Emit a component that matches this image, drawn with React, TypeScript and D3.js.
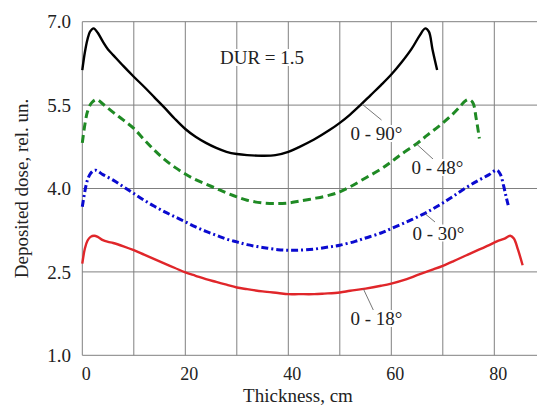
import React, { useEffect, useRef } from "react";
import * as d3 from "d3";

const WIDTH = 537;
const HEIGHT = 406;

// Thickness ticks (cm) and dose ticks (rel. un.)
const xGrid = [0, 10, 20, 30, 40, 50, 60, 70, 80, 90];
const xTickLabels = [0, 20, 40, 60, 80];
const yTicks = [1.0, 2.5, 4.0, 5.5, 7.0];

// Depth-dose profiles: [thickness, dose]
const dose90: [number, number][] = [
  [0, 6.13], [0.5, 6.45], [1, 6.68], [1.5, 6.82], [2.2, 6.88], [3, 6.8], [4, 6.64],
  [5, 6.5], [6, 6.4], [8, 6.2], [10, 6.01], [12, 5.83], [14, 5.64], [16, 5.45],
  [18, 5.25], [20, 5.07], [22, 4.93], [24, 4.82], [26, 4.73], [28, 4.66], [30, 4.62],
  [32, 4.6], [35, 4.59], [37.5, 4.6], [40, 4.66], [42, 4.74], [45, 4.88], [48, 5.05],
  [50, 5.18], [52, 5.33], [54, 5.5], [56, 5.68], [58, 5.86], [60, 6.05], [62, 6.27],
  [64, 6.52], [65.5, 6.75], [66.6, 6.88], [67.3, 6.82], [68, 6.5], [68.9, 6.13],
];

const dose48: [number, number][] = [
  [0, 4.82], [0.5, 5.15], [1, 5.38], [1.8, 5.54], [2.8, 5.6], [4, 5.52], [6, 5.37],
  [8, 5.23], [10, 5.08], [12, 4.88], [14, 4.69], [16, 4.52], [18, 4.38], [20, 4.26],
  [22, 4.16], [24, 4.08], [26, 4.0], [28, 3.92], [30, 3.85], [32, 3.79], [35, 3.74],
  [38, 3.73], [40, 3.74], [42, 3.77], [45, 3.82], [48, 3.88], [50, 3.94], [52, 4.03],
  [55, 4.19], [58, 4.35], [60, 4.48], [62, 4.62], [65, 4.81], [67, 4.96], [69.5, 5.14],
  [71.5, 5.3], [73.3, 5.47], [74.3, 5.57], [75, 5.6], [75.8, 5.55], [76.5, 5.25], [77.1, 4.9],
];

const dose30: [number, number][] = [
  [0, 3.67], [0.5, 3.95], [1, 4.15], [1.6, 4.27], [2.5, 4.33], [4, 4.25], [6, 4.15],
  [8, 4.03], [10, 3.91], [12, 3.79], [14, 3.68], [16, 3.58], [18, 3.49], [20, 3.4],
  [22, 3.31], [24, 3.23], [26, 3.16], [28, 3.09], [30, 3.04], [32, 2.99], [35, 2.94],
  [38, 2.9], [40, 2.89], [42, 2.89], [45, 2.91], [48, 2.95], [50, 2.98], [53, 3.05],
  [55, 3.11], [58, 3.2], [60, 3.28], [63, 3.4], [66, 3.53], [68, 3.63], [70, 3.74],
  [72, 3.86], [74.6, 4.02], [77, 4.15], [79, 4.25], [80.5, 4.33], [81.2, 4.25],
  [81.8, 4.05], [82.3, 3.85], [82.7, 3.7],
];

const dose18: [number, number][] = [
  [0, 2.65], [0.5, 2.92], [1, 3.06], [1.6, 3.13], [2.3, 3.15], [3, 3.13], [4, 3.07],
  [5, 3.04], [6, 3.02], [8, 2.96], [10, 2.89], [12, 2.81], [14, 2.73], [16, 2.65],
  [18, 2.57], [20, 2.49], [22, 2.43], [24, 2.37], [26, 2.32], [28, 2.27], [30, 2.22],
  [32, 2.19], [35, 2.15], [38, 2.12], [40, 2.1], [42, 2.1], [45, 2.1], [47, 2.11],
  [50, 2.13], [52, 2.16], [55, 2.2], [58, 2.25], [60, 2.29], [63, 2.37], [65, 2.44],
  [68, 2.54], [70, 2.61], [72, 2.69], [74.6, 2.8], [77, 2.9], [79, 2.98], [80.5, 3.05],
  [82, 3.1], [83.1, 3.15], [83.8, 3.1], [84.6, 2.9], [85.5, 2.62],
];

const seriesNames = ["0 - 90°", "0 - 48°", "0 - 30°", "0 - 18°"];
const annotation = "DUR = 1.5";

export default function App() {
  const ref = useRef<SVGSVGElement>(null);

  useEffect(() => {
    const svg = d3.select(ref.current);
    svg.selectAll("*").remove();

    const font = "'Liberation Serif', 'Times New Roman', serif";
    const x = d3.scaleLinear().domain([0, 90]).range([82.3, 545.8]);
    const y = d3.scaleLinear().domain([1, 7]).range([355.3, 21.7]);

    const grid = svg.append("g").attr("stroke", "#808080").attr("stroke-width", 1);
    grid.selectAll("line.v").data(xGrid).join("line")
      .attr("x1", (d) => x(d)).attr("x2", (d) => x(d))
      .attr("y1", y(7)).attr("y2", y(1));
    grid.selectAll("line.h").data(yTicks).join("line")
      .attr("x1", x(0)).attr("x2", x(90))
      .attr("y1", (d) => y(d)).attr("y2", (d) => y(d));

    const txt = svg.append("g").attr("font-family", font).attr("fill", "#222");
    txt.selectAll("text.yt").data(yTicks).join("text")
      .attr("x", 71).attr("y", (d) => y(d)).attr("dy", "0.35em")
      .attr("font-size", 19)
      .attr("text-anchor", "end").text((d) => d.toFixed(1));
    txt.selectAll("text.xt").data(xTickLabels).join("text")
      .attr("x", (d) => x(d) + 4).attr("y", 380)
      .attr("font-size", 18)
      .attr("text-anchor", "middle").text((d) => String(d));
    txt.append("text").attr("x", 298).attr("y", 402).attr("text-anchor", "middle")
      .attr("font-size", 19)
      .text("Thickness, cm");
    txt.append("text").attr("transform", `translate(28,${(y(7) + y(1)) / 2}) rotate(-90)`)
      .attr("font-size", 19)
      .attr("text-anchor", "middle").text("Deposited dose, rel. un.");

    const line = d3.line<[number, number]>()
      .x((d) => x(d[0])).y((d) => y(d[1]))
      .curve(d3.curveCatmullRom.alpha(0.5));

    const series = [
      { data: dose90, color: "#000000", width: 2.4, dash: null },
      { data: dose48, color: "#1f8a24", width: 3, dash: "8,4.5" },
      { data: dose30, color: "#0a0ad0", width: 3, dash: "7,3,2,3" },
      { data: dose18, color: "#e0262a", width: 2.4, dash: null },
    ];
    series.forEach((s) => {
      svg.append("path").datum(s.data)
        .attr("d", line)
        .attr("fill", "none")
        .attr("stroke", s.color)
        .attr("stroke-width", s.width)
        .attr("stroke-dasharray", s.dash)
        .attr("stroke-linejoin", "round");
    });

    // Curve labels with leader lines (leader starts on the curve)
    const labels = [
      { text: seriesNames[0], tx: 350.5, ty: 140, from: [54.3, 5.52], to: [381.5, 120] },
      { text: seriesNames[1], tx: 411.5, ty: 174, from: [64.9, 4.8], to: [433.3, 159.3] },
      { text: seriesNames[2], tx: 412.5, ty: 239.5, from: [66.5, 3.55], to: [435, 222] },
      { text: seriesNames[3], tx: 350.5, ty: 325, from: [54.6, 2.19], to: [373.3, 310] },
      { text: annotation, tx: 220, ty: 64, from: null, to: null },
    ];
    labels.forEach((l) => {
      if (l.from && l.to) {
        svg.append("line")
          .attr("x1", x(l.from[0])).attr("y1", y(l.from[1]))
          .attr("x2", l.to[0]).attr("y2", l.to[1])
          .attr("stroke", "#666").attr("stroke-width", 0.9);
      }
      const g = svg.append("g");
      const t = g.append("text")
        .attr("x", l.tx).attr("y", l.ty)
        .attr("font-family", font).attr("font-size", 19).attr("fill", "#222")
        .text(l.text);
      const bb = (t.node() as SVGTextElement).getBBox();
      g.insert("rect", "text")
        .attr("x", bb.x - 1).attr("y", bb.y + 2)
        .attr("width", bb.width + 2).attr("height", bb.height - 4)
        .attr("fill", "#fff");
    });
  }, []);

  return (
    <svg
      ref={ref}
      width={WIDTH}
      height={HEIGHT}
      style={{ position: "absolute", left: 0, top: 0, background: "#fff" }}
    />
  );
}
